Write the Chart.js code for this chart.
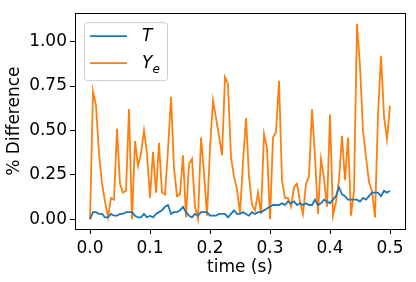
<!DOCTYPE html>
<html>
<head>
<meta charset="utf-8">
<script src="https://cdn.jsdelivr.net/npm/chart.js@4/dist/chart.umd.min.js"></script>
<style>
  html, body { margin: 0; padding: 0; background: #fff; }
  #wrap { width: 416px; height: 282px; position: relative; }
</style>
</head>
<body>
<div id="wrap"><canvas id="chart"></canvas></div>
<script>
var times = [
  0.000, 0.005, 0.010, 0.015, 0.020, 0.025, 0.030, 0.035, 0.040, 0.045,
  0.050, 0.055, 0.060, 0.065, 0.070, 0.075, 0.080, 0.085, 0.090, 0.095,
  0.100, 0.105, 0.110, 0.115, 0.120, 0.125, 0.130, 0.135, 0.140, 0.145,
  0.150, 0.155, 0.160, 0.165, 0.170, 0.175, 0.180, 0.185, 0.190, 0.195,
  0.200, 0.205, 0.210, 0.215, 0.220, 0.225, 0.230, 0.235, 0.240, 0.245,
  0.250, 0.255, 0.260, 0.265, 0.270, 0.275, 0.280, 0.285, 0.290, 0.295,
  0.300, 0.305, 0.310, 0.315, 0.320, 0.325, 0.330, 0.335, 0.340, 0.345,
  0.350, 0.355, 0.360, 0.365, 0.370, 0.375, 0.380, 0.385, 0.390, 0.395,
  0.400, 0.405, 0.410, 0.415, 0.420, 0.425, 0.430, 0.435, 0.440, 0.445,
  0.450, 0.455, 0.460, 0.465, 0.470, 0.475, 0.480, 0.485, 0.490, 0.495,
  0.500
];

var diffT = [
  0.00, 0.04, 0.04, 0.03, 0.03, 0.01, 0.01, 0.03, 0.02, 0.02,
  0.03, 0.03, 0.04, 0.04, 0.04, 0.02, 0.01, 0.01, 0.03, 0.01,
  0.02, 0.01, 0.03, 0.04, 0.05, 0.07, 0.08, 0.03, 0.04, 0.04,
  0.05, 0.07, 0.04, 0.02, 0.01, 0.03, 0.02, 0.04, 0.04, 0.04,
  0.02, 0.02, 0.02, 0.03, 0.03, 0.03, 0.01, 0.03, 0.05, 0.03,
  0.03, 0.04, 0.03, 0.02, 0.04, 0.03, 0.04, 0.04, 0.05, 0.06,
  0.07, 0.08, 0.08, 0.08, 0.09, 0.08, 0.10, 0.09, 0.10, 0.08,
  0.09, 0.08, 0.09, 0.08, 0.08, 0.11, 0.08, 0.09, 0.11, 0.10,
  0.09, 0.11, 0.13, 0.18, 0.14, 0.13, 0.11, 0.11, 0.11, 0.11,
  0.10, 0.12, 0.11, 0.13, 0.15, 0.15, 0.15, 0.13, 0.16, 0.15,
  0.16
];

var diffYe = [
  0.00, 0.72, 0.64, 0.37, 0.20, 0.10, 0.01, 0.12, 0.11, 0.51,
  0.20, 0.15, 0.16, 0.62, 0.00, 0.44, 0.30, 0.37, 0.50, 0.37,
  0.12, 0.38, 0.15, 0.43, 0.15, 0.14, 0.39, 0.69, 0.29, 0.13,
  0.14, 0.36, 0.01, 0.31, 0.34, 0.07, 0.00, 0.46, 0.26, 0.02,
  0.40, 0.67, 0.57, 0.47, 0.36, 0.80, 0.76, 0.35, 0.24, 0.17,
  0.03, 0.32, 0.57, 0.24, 0.08, 0.05, 0.15, 0.03, 0.48, 0.40,
  0.00, 0.46, 0.49, 0.78, 0.22, 0.12, 0.12, 0.07, 0.18, 0.20,
  0.10, 0.03, 0.20, 0.24, 0.62, 0.35, 0.03, 0.34, 0.23, 0.07,
  0.59, 0.02, 0.10, 0.22, 0.47, 0.22, 0.46, 0.02, 0.16, 1.10,
  0.86, 0.50, 0.35, 0.21, 0.16, 0.01, 0.59, 0.92, 0.58, 0.45,
  0.64
];

var seriesNames = ['T', 'Y_e'];
var seriesColors = ['#1f77b4', '#ff7f0e'];
var xTicks = [0.0, 0.1, 0.2, 0.3, 0.4, 0.5];
var yTicks = [0.00, 0.25, 0.50, 0.75, 1.00];

var FONT = "'DejaVu Sans', sans-serif";

function points(ys) {
  return times.map(function (t, i) { return { x: t, y: ys[i] }; });
}

// frame on all four sides + legend box in the upper left, matplotlib style
var framePlugin = {
  id: 'frame',
  afterDraw: function (chart) {
    var ctx = chart.ctx;
    var a = chart.chartArea;
    ctx.save();
    ctx.strokeStyle = '#000';
    ctx.lineWidth = 1;
    ctx.strokeRect(Math.round(a.left) + 0.5, Math.round(a.top) + 0.5,
      Math.round(a.right - a.left), Math.round(a.bottom - a.top));

    var bx = a.left + 9, by = a.top + 9, bw = 83, bh = 58;
    ctx.beginPath();
    ctx.roundRect(bx + 0.5, by + 0.5, bw, bh, 3);
    ctx.fillStyle = 'rgba(255,255,255,0.8)';
    ctx.fill();
    ctx.strokeStyle = '#cccccc';
    ctx.stroke();

    chart.data.datasets.forEach(function (ds, i) {
      var ly = by + 14 + i * 27;
      ctx.beginPath();
      ctx.moveTo(bx + 6, ly);
      ctx.lineTo(bx + 43, ly);
      ctx.strokeStyle = ds.borderColor;
      ctx.lineWidth = 1.8;
      ctx.stroke();

      var parts = ds.label.split('_');
      ctx.fillStyle = '#000';
      ctx.textBaseline = 'middle';
      ctx.textAlign = 'left';
      ctx.font = 'italic 17px ' + FONT;
      var tx = bx + 58;
      ctx.fillText(parts[0], tx, ly);
      if (parts[1]) {
        var w = ctx.measureText(parts[0]).width;
        ctx.font = 'italic 12px ' + FONT;
        ctx.fillText(parts[1], tx + w, ly + 7);
      }
    });
    ctx.restore();
  }
};

new Chart(document.getElementById('chart'), {
  type: 'line',
  data: {
    datasets: [
      {
        label: seriesNames[0],
        data: points(diffT),
        borderColor: seriesColors[0],
        borderWidth: 1.8,
        pointRadius: 0,
        tension: 0,
        fill: false
      },
      {
        label: seriesNames[1],
        data: points(diffYe),
        borderColor: seriesColors[1],
        borderWidth: 1.8,
        pointRadius: 0,
        tension: 0,
        fill: false
      }
    ]
  },
  options: {
    responsive: true,
    maintainAspectRatio: false,
    animation: false,
    layout: { padding: { top: 10, right: 11, left: 0, bottom: 0 } },
    plugins: {
      legend: { display: false },
      tooltip: { enabled: false }
    },
    scales: {
      x: {
        type: 'linear',
        min: -0.025,
        max: 0.525,
        afterBuildTicks: function (s) {
          s.ticks = xTicks.map(function (v) { return { value: v }; });
        },
        afterFit: function (s) { s.height = 53; },
        ticks: {
          color: '#000',
          font: { family: FONT, size: 17 },
          padding: 4,
          maxRotation: 0,
          callback: function (v) { return v.toFixed(1); }
        },
        grid: {
          drawOnChartArea: false,
          drawTicks: true,
          tickLength: 5,
          color: '#000'
        },
        border: { display: false },
        title: {
          display: true,
          text: 'time (s)',
          color: '#000',
          font: { family: FONT, size: 17 },
          padding: { top: 0, bottom: 4 }
        }
      },
      y: {
        type: 'linear',
        min: -0.055,
        max: 1.16,
        afterBuildTicks: function (s) {
          s.ticks = yTicks.map(function (v) { return { value: v }; });
        },
        afterFit: function (s) { s.width = 75; },
        ticks: {
          color: '#000',
          font: { family: FONT, size: 17 },
          padding: 3,
          callback: function (v) { return v.toFixed(2); }
        },
        grid: {
          drawOnChartArea: false,
          drawTicks: true,
          tickLength: 5,
          color: '#000'
        },
        border: { display: false },
        title: {
          display: true,
          text: '% Difference',
          color: '#000',
          font: { family: FONT, size: 17 },
          padding: { top: 4, bottom: 0 }
        }
      }
    }
  },
  plugins: [framePlugin]
});
</script>
</body>
</html>
